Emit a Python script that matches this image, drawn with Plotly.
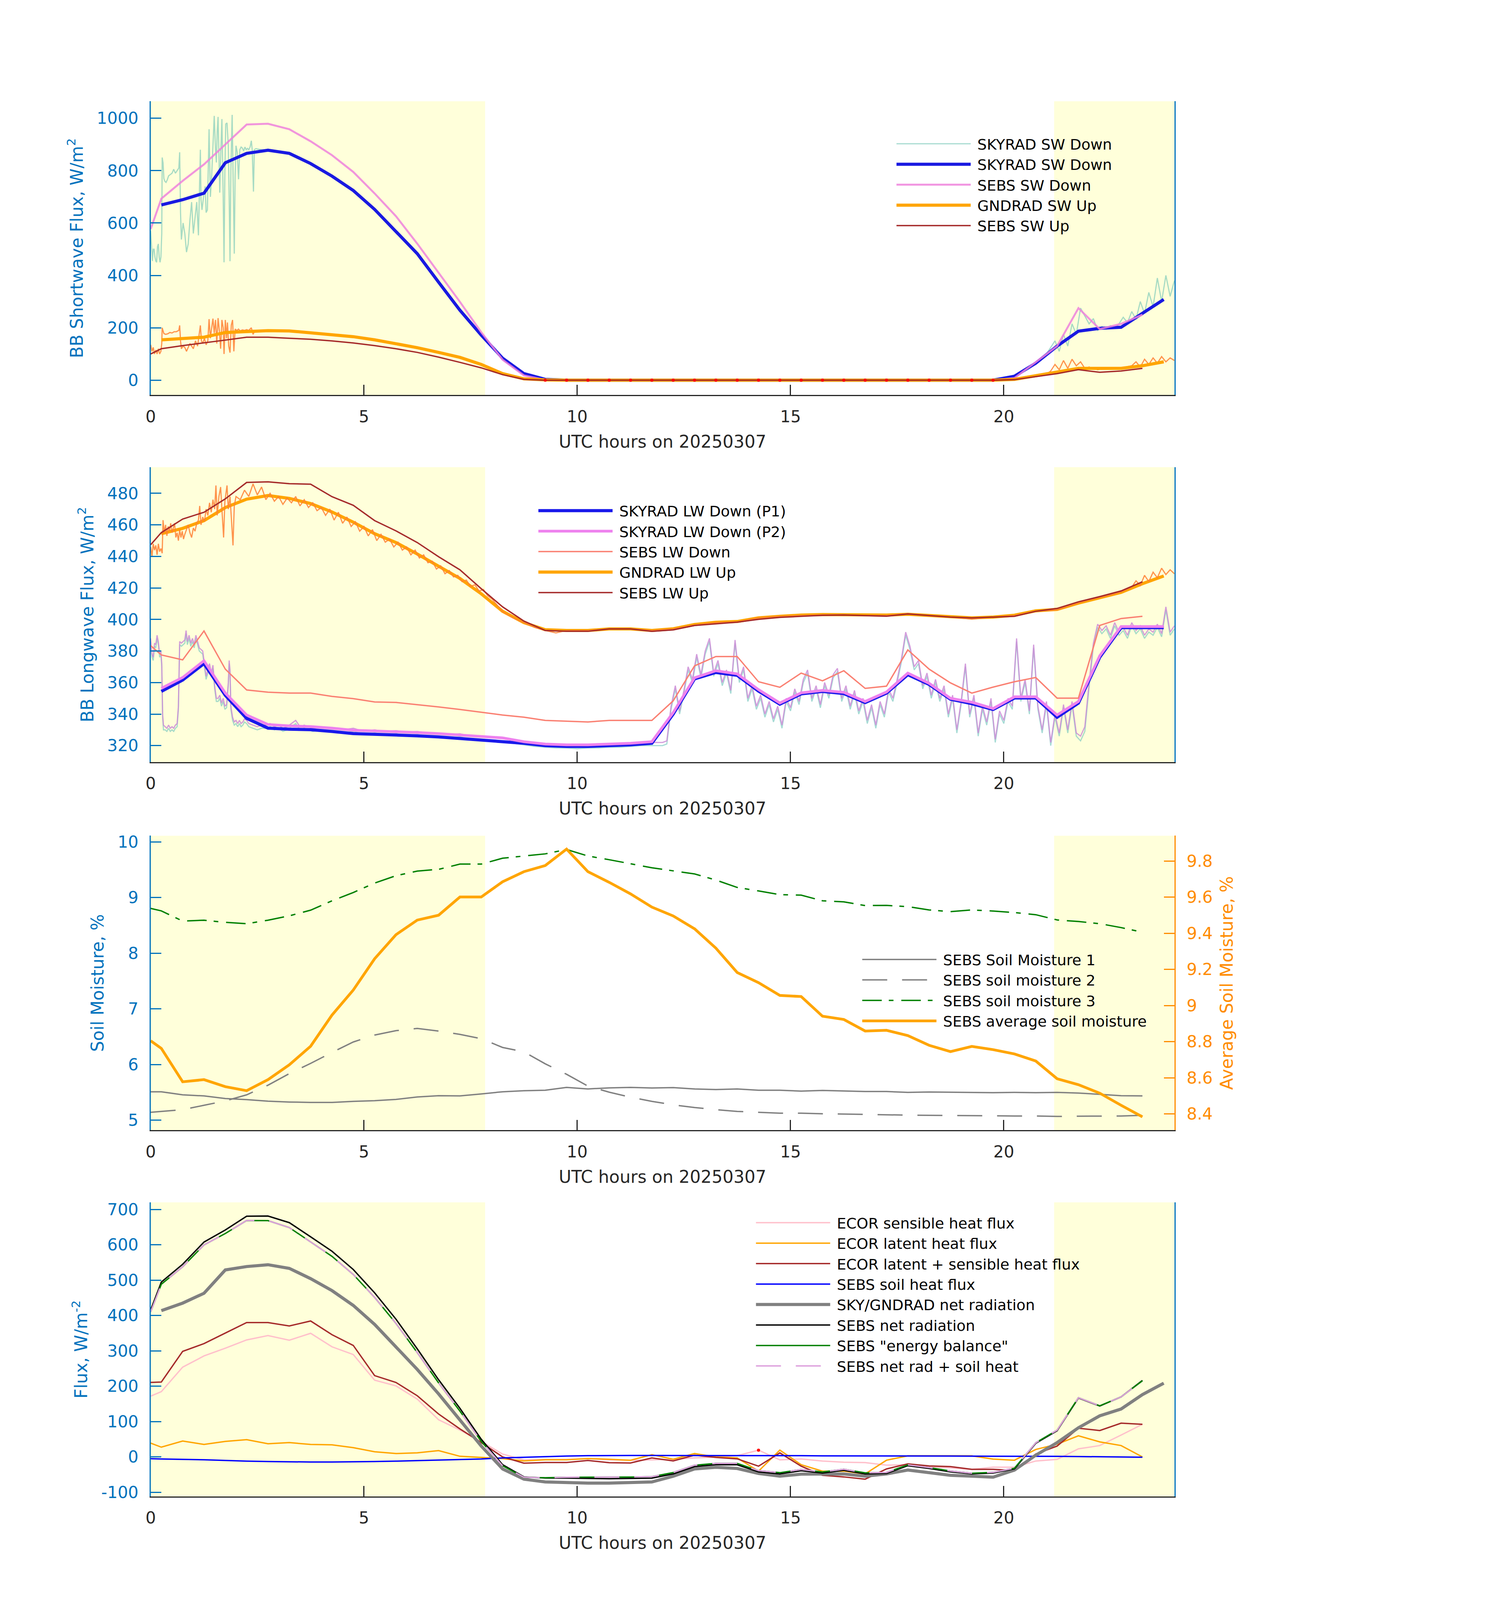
import plotly.graph_objects as go

FONT = "DejaVu Sans"
AXBLUE = "#0072BD"
DARK = "#262626"
AXORANGE = "#FF8C00"
SHADE = "#FFFFDA"

# ---------------- time grids (UTC hours) ----------------
T_SEBS = [0, 0.25, 0.75, 1.25, 1.75, 2.25, 2.75, 3.25, 3.75, 4.25, 4.75, 5.25, 5.75, 6.25, 6.75,
          7.25, 7.75, 8.25, 8.75, 9.25, 9.75, 10.25, 10.75, 11.25, 11.75, 12.25, 12.75, 13.25,
          13.75, 14.25, 14.75, 15.25, 15.75, 16.25, 16.75, 17.25, 17.75, 18.25, 18.75, 19.25,
          19.75, 20.25, 20.75, 21.25, 21.75, 22.25, 22.75, 23.25]
T_AVG = [0.25, 0.75, 1.25, 1.75, 2.25, 2.75, 3.25, 3.75, 4.25, 4.75, 5.25, 5.75, 6.25, 6.75,
         7.25, 7.75, 8.25, 8.75, 9.25, 9.75, 10.25, 10.75, 11.25, 11.75, 12.25, 12.75, 13.25,
         13.75, 14.25, 14.75, 15.25, 15.75, 16.25, 16.75, 17.25, 17.75, 18.25, 18.75, 19.25,
         19.75, 20.25, 20.75, 21.25, 21.75, 22.25, 22.75, 23.25, 23.75]
DAYLIGHT = [(0, 7.84), (21.18, 24)]

# ---------------- panel 1: shortwave ----------------
SW_RAW_T = [0.00, 0.02, 0.04, 0.06, 0.08, 0.10, 0.12, 0.14, 0.16, 0.18, 0.20, 0.22, 0.24, 0.26, 0.27,
            0.29, 0.31, 0.33, 0.36, 0.39, 0.42, 0.46, 0.50, 0.54, 0.58, 0.62, 0.66, 0.68, 0.70, 0.72,
            0.76, 0.80, 0.84, 0.88, 0.92, 0.96, 1.00, 1.04, 1.08, 1.12, 1.165, 1.18, 1.203, 1.24,
            1.278, 1.30, 1.33, 1.369, 1.40, 1.43, 1.46, 1.49, 1.52, 1.54, 1.56, 1.58, 1.60, 1.62,
            1.64, 1.67, 1.70, 1.72, 1.74, 1.76, 1.79, 1.82, 1.84, 1.86, 1.88, 1.91, 1.94, 1.96,
            1.98, 2.00, 2.03, 2.06, 2.09, 2.12, 2.15, 2.18, 2.21, 2.24, 2.27, 2.30, 2.33, 2.36,
            2.38, 2.41, 2.43, 2.47, 2.52, 2.60,
            2.75, 3.0, 3.25, 3.5, 3.75, 4.0, 4.25, 4.5, 4.75, 5.0, 5.25, 5.5, 5.75, 6.0, 6.25, 6.5,
            6.75, 7.0, 7.25, 7.5, 7.75, 8.0, 8.25, 8.5, 8.75, 9.0, 9.25, 9.5, 19.5, 19.75,
            20.0, 20.2, 20.4, 20.6, 20.8, 21.0, 21.1, 21.2, 21.3, 21.4, 21.5, 21.6, 21.7, 21.8,
            21.9, 22.0, 22.1, 22.2, 22.3, 22.4, 22.5, 22.6, 22.7, 22.8, 22.9, 23.0, 23.1, 23.2,
            23.3, 23.4, 23.5, 23.6, 23.7, 23.8, 23.9, 24.0]
SW_RAW_DOWN = [570, 520, 455, 500, 500, 470, 455, 450, 510, 520, 470, 450, 470, 560, 850,
               830, 770, 760, 755, 765, 780, 785, 790, 805, 790, 800, 810, 870, 640, 537,
               600, 560, 489, 520, 610, 680, 560, 620, 680, 553, 880, 690, 650, 700,
               740, 640, 650, 958, 700, 780, 900, 1009, 880, 831, 950, 1005, 860, 716,
               850, 997, 700, 450, 800, 978, 982, 895, 700, 454, 800, 1013, 700, 483,
               780, 895, 870, 767, 880, 890, 886, 875, 890, 880, 885, 880, 890, 914,
               880, 720, 880, 884, 882, 880,
               878, 874, 867, 850, 829, 806, 781, 754, 726, 690, 654, 612, 570, 528, 485, 430,
               376, 322, 268, 220, 173, 128, 85, 50, 25, 10, 3, 0, 0, 1,
               4, 10, 25, 45, 75, 100, 125, 150, 110, 175, 130, 215, 175, 275,
               245, 215, 235, 190, 205, 195, 208, 200, 215, 240, 220, 262, 232, 300,
               255, 335, 280, 390, 300, 400, 320, 380]

SW_UP_RAW_T = [0.00, 0.03, 0.06, 0.09, 0.12, 0.15, 0.18, 0.21, 0.24, 0.26, 0.27, 0.29, 0.31, 0.35,
               0.40, 0.45, 0.50, 0.55, 0.60, 0.66, 0.68, 0.70, 0.72, 0.76, 0.80, 0.84, 0.88, 0.92,
               0.96, 1.00, 1.05, 1.10, 1.165, 1.19, 1.22, 1.26, 1.30, 1.34, 1.369, 1.40, 1.43,
               1.46, 1.49, 1.52, 1.55, 1.58, 1.61, 1.64, 1.67, 1.70, 1.72, 1.75, 1.78, 1.80, 1.83,
               1.86, 1.89, 1.92, 1.95, 1.98, 2.02, 2.06, 2.10, 2.15, 2.20, 2.25, 2.30, 2.36, 2.40,
               2.45, 2.60,
               2.75, 3.25, 3.75, 4.25, 4.75, 5.25, 5.75, 6.25, 6.75, 7.25, 7.75, 8.25, 8.75, 9.25,
               20.0, 20.5, 21.0,
               21.1, 21.2, 21.3, 21.4, 21.5, 21.6, 21.7, 21.8, 21.9, 22.0, 22.2, 22.4, 22.6, 22.8,
               23.0, 23.1, 23.2, 23.3, 23.4, 23.5, 23.6, 23.7, 23.8, 23.9, 24.0]
SW_RAW_UP = [135, 110, 125, 100, 115, 100, 120, 100, 110, 140, 200, 190, 178, 175,
             177, 182, 180, 185, 185, 190, 209, 150, 120, 130, 125, 110, 125, 140,
             130, 120, 150, 130, 209, 150, 140, 160, 135, 150, 233, 160, 200,
             235, 180, 230, 140, 237, 190, 120, 230, 200, 100, 230, 160, 220, 130,
             105, 210, 230, 110, 195, 190, 195, 188, 192, 190, 193, 190, 200, 175,
             190, 190,
             189, 188, 181, 175, 166, 154, 140, 124, 106, 87, 60, 25, 5, 0,
             0, 8, 22,
             35, 60, 40, 75, 45, 80, 55, 70, 45, 50, 40, 45, 42, 48,
             55, 70, 50, 80, 60, 85, 65, 90, 70, 85, 75]

SKYRAD_SW_DOWN = [669, 689, 714, 830, 866, 878, 866, 827, 779, 724, 652, 568, 483, 374, 267, 172,
                  84, 25, 3, 0, 0, 0, 0, 0, 0, 0, 0, 0, 0, 0, 0, 0, 0, 0, 0, 0, 0, 0, 0, 0,
                  15, 65, 130, 187, 198, 202, 255, 308]
SEBS_SW_DOWN = [577, 693, 761, 824, 900, 976, 979, 958, 912, 859, 795, 713, 626, 521, 410, 299,
                183, 78, 18, 1, 0, 0, 0, 0, 0, 0, 0, 0, 0, 0, 0, 0, 0, 0, 0, 0, 0, 0, 0, 0,
                0, 8, 70, 130, 275, 195, 215, 250]
GNDRAD_SW_UP = [154, 158, 164, 182, 186, 189, 188, 181, 175, 166, 154, 140, 124, 106, 87, 60,
                25, 5, 1, 0, 0, 0, 0, 0, 0, 0, 0, 0, 0, 0, 0, 0, 0, 0, 0, 0, 0, 0, 0, 0,
                3, 18, 30, 45, 45, 45, 55, 70]
SEBS_SW_UP = [100, 120, 132, 142, 153, 164, 164, 160, 156, 150, 142, 132, 120, 106, 88, 68,
              47, 21, 3, 0, 0, 0, 0, 0, 0, 0, 0, 0, 0, 0, 0, 0, 0, 0, 0, 0, 0, 0, 0, 0,
              0, 2, 14, 25, 40, 30, 35, 45]
FLAG_WINDOW_SW = (9.0, 20.0)      # SEBS SW Up samples drawn with red dots

# ---------------- panel 2: longwave ----------------
LW_RAW_T = ([0.00, 0.03, 0.06, 0.09, 0.12, 0.15, 0.18, 0.21, 0.24, 0.26, 0.28, 0.30, 0.34, 0.38,
             0.42, 0.46, 0.50, 0.54, 0.58, 0.62, 0.65, 0.68, 0.72, 0.76, 0.80, 0.83, 0.86, 0.90,
             0.94, 0.98, 1.02, 1.06, 1.10, 1.14, 1.18, 1.22, 1.26, 1.30, 1.34, 1.38, 1.42, 1.46,
             1.50, 1.54, 1.58, 1.62, 1.66, 1.70, 1.74, 1.78, 1.82, 1.84, 1.86, 1.88, 1.92, 1.96,
             2.00, 2.04, 2.08, 2.12, 2.16, 2.20, 2.25, 2.30, 2.40, 2.50, 2.60, 2.70, 2.80, 2.90,
             3.00, 3.10, 3.20, 3.30, 3.40, 3.50, 3.60, 3.70,
             3.8, 4.0, 4.25, 4.5, 4.75, 5.0, 5.25, 5.5, 5.75, 6.0, 6.25, 6.5, 6.75, 7.0, 7.25,
             7.5, 7.75, 8.0, 8.25, 8.5, 8.75, 9.0, 9.25, 9.5, 9.75, 10.0, 10.25, 10.5, 10.75,
             11.0, 11.25, 11.5, 11.75, 11.9]
            + [round(12 + 0.1 * i, 1) for i in range(121)])
LW_RAW_P2 = [388, 378, 376, 385, 384, 390, 386, 378, 380, 372, 340, 333, 332, 331, 333, 331, 332,
             331, 333, 334, 345, 386, 385, 386, 387, 393, 386, 390, 385, 388, 384, 390, 386, 382,
             381, 380, 372, 364, 368, 372, 366, 371, 358, 350, 350, 352, 347, 350, 345, 346, 360,
             374, 368, 345, 338, 335, 336, 334, 336, 334, 335, 337, 336, 334, 333, 332, 333, 333,
             334, 332, 333, 331, 332, 334, 336, 332, 333, 332,
             331, 332, 331, 330, 331, 329, 330, 329, 329.5, 328.5, 329, 328, 327.5, 327, 327.5,
             326, 325.5, 325, 324.5, 323.5, 322.5, 321.5, 321, 320.5, 320.5, 320, 320.5, 320.5,
             321, 321, 321.5, 322, 322, 322,
             322, 323, 345, 358, 342, 355, 370, 362, 378, 365,
             380, 388, 366, 374, 360, 368, 355, 387, 362, 370,
             350, 358, 345, 352, 340, 348, 337, 345, 333, 350,
             344, 356, 348, 362, 368, 350, 358, 346, 360, 352,
             365, 369, 350, 358, 345, 355, 342, 350, 336, 346,
             333, 348, 340, 356, 350, 362, 375, 392, 383, 370,
             374, 358, 366, 352, 362, 350, 358, 340, 352, 330,
             348, 372, 340, 352, 328, 345, 335, 350, 324, 342,
             336, 350, 345, 388, 350, 362, 342, 384, 345, 330,
             348, 322, 340, 328, 346, 330, 348, 328, 326, 332,
             360, 385, 397, 393, 396, 390, 398, 392, 395, 390,
             398, 393, 396, 390, 394, 392, 397, 391, 408, 392,
             396]
LW_RAW_P1 = [386, 376, 374, 383, 382, 388, 384, 376, 378, 370, 338, 330, 330, 329, 331, 329, 330,
             329, 331, 332, 343, 384, 383, 384, 385, 391, 384, 388, 383, 386, 382, 388, 384, 380,
             379, 378, 370, 362, 366, 370, 364, 369, 356, 348, 348, 350, 345, 348, 343, 344, 358,
             372, 366, 343, 336, 333, 334, 332, 334, 332, 333, 335, 334, 332, 331, 330, 331, 331,
             332, 330, 331, 329, 330, 332, 334, 330, 331, 330,
             329, 330, 329, 328, 329, 327, 328, 327, 327.5, 326.5, 327, 326, 325.5, 325, 325.5,
             324, 323.5, 323, 322.5, 321.5, 320.5, 319.5, 319, 318.5, 318.5, 318, 318.5, 318.5,
             319, 319, 319.5, 320, 320, 320,
             320, 321, 343, 356, 340, 353, 368, 360, 376, 363,
             378, 386, 364, 372, 358, 366, 353, 385, 360, 368,
             348, 356, 343, 350, 338, 346, 335, 343, 331, 348,
             342, 354, 346, 360, 366, 348, 356, 344, 358, 350,
             363, 367, 348, 356, 343, 353, 340, 348, 334, 344,
             331, 346, 338, 354, 348, 360, 373, 390, 381, 368,
             372, 356, 364, 350, 360, 348, 356, 338, 350, 328,
             346, 370, 338, 350, 326, 343, 333, 348, 322, 340,
             334, 348, 343, 386, 348, 360, 340, 382, 343, 328,
             346, 320, 338, 326, 344, 328, 346, 326, 323, 329,
             357, 383, 395, 391, 394, 388, 396, 390, 393, 388,
             396, 391, 394, 388, 392, 390, 395, 389, 406, 390,
             394]
LWUP_RAW_T = ([0.00, 0.03, 0.06, 0.09, 0.12, 0.15, 0.18, 0.21, 0.24, 0.27, 0.29, 0.32, 0.35, 0.38,
               0.41, 0.44, 0.47, 0.50, 0.53, 0.56, 0.59, 0.62, 0.65, 0.68, 0.71, 0.74, 0.77, 0.80,
               0.84, 0.88, 0.92, 0.96, 1.00, 1.04, 1.08, 1.12, 1.15, 1.18, 1.22, 1.26, 1.30, 1.34,
               1.38, 1.42, 1.46, 1.50, 1.53, 1.56, 1.60, 1.64, 1.67, 1.71, 1.74, 1.77, 1.79, 1.82,
               1.86, 1.89, 1.93, 1.96, 2.00]
              + [round(2.1 + 0.1 * i, 1) for i in range(60)]
              + [8.25, 8.5, 8.75, 9.0, 9.25, 9.5, 9.75, 10.25, 10.75, 11.25, 11.75, 12.25, 12.75,
                 13.25, 13.75, 14.25, 14.75, 15.25, 15.75, 16.25, 16.75, 17.25, 17.75, 18.25,
                 18.75, 19.25, 19.75, 20.25, 20.75, 21.25, 21.5, 21.75, 22.0, 22.25, 22.5, 22.75,
                 23.0, 23.1, 23.2, 23.3, 23.4, 23.5, 23.6, 23.7, 23.8, 23.9, 24.0])
LWUP_RAW = [446, 440, 448, 444, 447, 441, 448, 443, 445, 442, 463, 455, 460, 453, 459, 456, 461,
            455, 458, 461, 452, 455, 450, 457, 452, 456, 451, 454, 457, 460, 455, 452, 458, 456,
            461, 463, 472, 460, 465, 462, 470, 466, 474, 468, 476, 470, 485, 466, 478, 484, 470,
            452, 475, 481, 485, 470, 478, 465, 447, 472, 478,
            476, 482, 478, 486, 479, 484, 476, 480, 475, 478,
            473, 477, 474, 478, 472, 476, 471, 474, 469, 471,
            466, 470, 463, 468, 461, 465, 459, 462, 456, 459,
            453, 457, 450, 454, 449, 451, 446, 449, 444, 446,
            441, 444, 439, 441, 436, 437, 432, 434, 429, 431,
            427, 428, 424, 425, 421, 422, 418, 419, 415, 413,
            405, 401, 398, 395, 393, 391.5, 393, 393, 394, 394, 393, 394, 396.5,
            398, 398.5, 401, 402, 402.5, 403, 403, 402.5, 402.5, 403.8, 402.3,
            401.5, 400.2, 401.5, 402.5, 405.3, 406, 408.5, 410.5, 412.5, 414, 415.5, 417.5,
            420.5, 424.5, 421.5, 428, 424, 430, 426.5, 432.5, 428.5, 431.5, 429]

SKYRAD_LW_P1 = [354.4, 361.6, 372, 351.9, 337.3, 331.1, 330.4, 330.1, 329, 327.6, 327.2, 326.9,
                326.2, 325.5, 324.6, 323.5, 322.5, 321.5, 320, 319.5, 319.5, 320, 320.5, 321.5,
                340, 362.3, 366.4, 364.6, 354.6, 346.3, 352.8, 354.4, 353, 347.3, 353.3, 365,
                358.8, 349.4, 346.6, 342.9, 350.2, 350.2, 338, 347, 376.1, 394.8, 394.8, 394.8]
SKYRAD_LW_P2 = [356.3, 363.2, 373.8, 353.3, 339.4, 333.4, 332.5, 332.1, 331.1, 329.7, 329.3, 329,
                328.3, 327.6, 326.6, 325.5, 324.9, 322.5, 321, 320.5, 320.5, 321, 321.5, 322.5,
                341, 363, 367.5, 365.5, 355.5, 347, 353.5, 355, 353.8, 348, 354, 366,
                359.5, 350, 347.5, 343.5, 351, 351, 339.4, 348, 377, 395.5, 395.5, 395.5]
SEBS_LW_DOWN = [383.4, 377.5, 374.4, 392.7, 368.5, 355.3, 353.9, 353.3, 353.3, 351.2, 349.8, 347.7,
                347.4, 346, 344.5, 342.9, 341.1, 339.4, 338, 336, 335.5, 335, 336, 336, 336,
                348.4, 370.6, 376.5, 376.5, 360.5, 357, 366, 361.1, 367.5, 356.3, 357.7, 380.7,
                368.5, 359.8, 353.3, 357.1, 360.5, 363.2, 350.1, 350.1, 396.2, 400.6, 402]
GNDRAD_LW_UP = [454.4, 457.8, 462.7, 471, 476.3, 478.6, 476.8, 473.5, 468.2, 461.7, 454.4, 448.8,
                441.5, 433.6, 426, 416.3, 405.2, 398, 393.5, 393, 393, 394, 394, 393,
                394.1, 396.8, 398.2, 398.7, 401, 402, 402.8, 403.1, 403.1, 402.8, 402.8, 403.3,
                402.4, 401.7, 401, 401.5, 402.7, 405.5, 406.4, 410.4, 413.9, 417.2, 422.7, 427.6]
SEBS_LW_UP = [447.4, 455.1, 463.7, 468, 476.5, 486.9, 487.3, 486.1, 485.8, 477.9, 472.4, 462.7,
              456.2, 448.8, 439.8, 431.5, 419.5, 408, 399, 393, 392.5, 392.5, 394, 394, 392.5,
              393.4, 396.2, 397.3, 398.3, 400.1, 401.3, 402, 402.6, 402.8, 402.4, 402.1, 403.5,
              402.4, 401.5, 401, 401.5, 402, 405.2, 407, 411.2, 414.5, 418.1, 423.9]

# ---------------- panel 3: soil moisture ----------------
SM1 = [5.511, 5.511, 5.456, 5.436, 5.389, 5.370, 5.342, 5.327, 5.319, 5.319, 5.338, 5.350, 5.374,
       5.417, 5.440, 5.436, 5.472, 5.511, 5.530, 5.539, 5.590, 5.562, 5.581, 5.590, 5.578, 5.586,
       5.562, 5.550, 5.562, 5.539, 5.539, 5.523, 5.535, 5.527, 5.515, 5.515, 5.499, 5.507, 5.503,
       5.503, 5.495, 5.499, 5.495, 5.499, 5.488, 5.464, 5.440, 5.436]
SM2 = [5.142, 5.158, 5.190, 5.268, 5.347, 5.456, 5.629, 5.837, 6.021, 6.217, 6.405, 6.530, 6.609,
       6.648, 6.601, 6.542, 6.464, 6.307, 6.228, 6.013, 5.825, 5.613, 5.503, 5.413, 5.338, 5.276,
       5.228, 5.190, 5.158, 5.142, 5.126, 5.126, 5.115, 5.111, 5.103, 5.099, 5.091, 5.088, 5.084,
       5.080, 5.080, 5.076, 5.076, 5.068, 5.072, 5.072, 5.076, 5.088]
SM3 = [8.804, 8.76, 8.577, 8.592, 8.554, 8.530, 8.592, 8.671, 8.773, 8.941, 9.090, 9.259, 9.392,
       9.475, 9.506, 9.600, 9.600, 9.706, 9.745, 9.784, 9.863, 9.745, 9.679, 9.609, 9.534, 9.479,
       9.424, 9.314, 9.181, 9.118, 9.052, 9.043, 8.941, 8.922, 8.855, 8.859, 8.836, 8.777, 8.746,
       8.777, 8.757, 8.730, 8.691, 8.597, 8.569, 8.530, 8.460, 8.377]
SM_AVG = [8.805, 8.763, 8.578, 8.590, 8.551, 8.529, 8.590, 8.672, 8.775, 8.947, 9.086, 9.259,
          9.392, 9.473, 9.500, 9.601, 9.601, 9.685, 9.741, 9.775, 9.866, 9.741, 9.682, 9.618,
          9.545, 9.496, 9.425, 9.318, 9.183, 9.127, 9.056, 9.050, 8.941, 8.923, 8.859, 8.863,
          8.834, 8.780, 8.745, 8.774, 8.756, 8.732, 8.693, 8.595, 8.562, 8.515, 8.448, 8.384]

# ---------------- panel 4: surface fluxes ----------------
ECOR_SENSIBLE = [171.7, 184.6, 253.8, 285.5, 307.5, 330.8, 343.1, 330.1, 349.5, 311.4, 289.4,
                 216.9, 200.8, 163.3, 105.1, 76, 43.7, 8, -8.4, -7, -7, -5, -8.4, -9.7, -8.4, -7,
                 -2.9, -0.4, 3.5, 19, -8.4, -5.8, -11.6, -14.9, -16.1, -23.2, -22.6, -27.8, -31,
                 -35.5, -29, -29, -11.6, -7, 22.9, 32, 61.7, 92.1]
ECOR_LATENT = [39.1, 27.5, 44.9, 35.2, 43.7, 48.8, 37.2, 40.4, 35.2, 34, 26.2, 14.6, 9.5, 11.4,
               17.8, 1.7, -1.6, -4.8, -11.3, -8, -8, -4.8, -6.8, -9.4, 6.1, -6.8, 9.5, -0.2, -2.8,
               -40.3, 19.2, -22.2, -40.3, -40.3, -48, -9.4, 2.9, 2.9, 2.9, 2.9, -6.2, -9.4, 21,
               35.9, 59.8, 42.4, 32.1, -0.2]
ECOR_SUM = [210.5, 211.8, 298.4, 320.4, 350.2, 379.9, 379.9, 370.2, 384.4, 345.6, 315.2, 229.9,
            210.5, 173, 121.2, 79.2, 40.4, 0, -17.8, -15.8, -15.8, -10, -16.4, -17.1, -2.9, -11.3,
            4.8, -1.6, -5.5, -26.2, 11.3, -26.2, -52, -56.6, -63, -34, -19.8, -25.6, -27.5, -35.3,
            -35.3, -38.5, 8, 30.7, 81.1, 74.6, 95.4, 92.1]
SEBS_SOIL = [-5, -6, -7, -8, -10, -12, -13, -14, -14.5, -14.5, -14, -13, -12, -10.5, -9, -8, -6,
             -3, -1, 1, 2.5, 3.5, 4, 4, 4, 4, 4, 4, 4, 3.5, 3.5, 3.5, 3, 3, 3, 3, 2.5, 2.5, 2.5,
             2, 2, 2, 1.5, 1.5, 1, 0.5, 0, -1]
SKYGND_NET = [413.5, 434.9, 462.7, 528.7, 538.3, 543.5, 533.2, 504.1, 470.4, 428.4, 374.7, 312,
              247.3, 178.1, 105.1, 30.7, -34, -63, -70.8, -72.7, -74, -74, -72.7, -70.8, -54.6,
              -34, -29.4, -32.7, -46.9, -54.6, -48.8, -48.2, -48.2, -54.6, -48.2, -37.2, -43.7,
              -52.1, -54.6, -57.2, -37.2, 4.8, 40.4, 82.4, 116.1, 135.5, 176.2, 208.5]
SEBS_NET = [415.5, 494.4, 544.8, 607.5, 641.8, 680.6, 681.2, 662.5, 622.4, 581.7, 529.9, 464,
            389.6, 305.5, 218.2, 137.4, 50, -22, -56.6, -59.9, -60, -61, -61.8, -61, -60, -48.2,
            -27.5, -22.3, -22.3, -42.4, -48.2, -39.2, -45.7, -37.9, -48.2, -46.9, -24.9, -32.7,
            -42.4, -48.2, -45.7, -34, 38.5, 74, 166.5, 143.9, 169.7, 216.3]
SEBS_ENERGY_BAL = [410.5, 488.4, 537.8, 599.5, 631.8, 668.6, 668.2, 648.5, 607.9, 567.2, 515.9, 451,
                   377.6, 295, 209.2, 129.4, 44, -25, -57.6, -58.9, -57.5, -57.5, -57.8, -57, -56,
                   -44.2, -23.5, -18.3, -18.3, -38.9, -44.7, -35.7, -42.7, -34.9, -45.2, -43.9,
                   -22.4, -30.2, -39.9, -46.2, -43.7, -32, 40, 75.5, 167.5, 144.4, 169.7, 215.3]
SEBS_NETRAD_SOIL = [410.5, 488.4, 537.8, 599.5, 631.8, 668.6, 668.2, 648.5, 607.9, 567.2, 515.9,
                    451, 377.6, 295, 209.2, 129.4, 44, -25, -57.6, -58.9, -57.5, -57.5, -57.8, -57,
                    -56, -44.2, -23.5, -18.3, -18.3, -38.9, -44.7, -35.7, -42.7, -34.9, -45.2,
                    -43.9, -22.4, -30.2, -39.9, -46.2, -43.7, -32, 40, 75.5, 167.5, 144.4, 169.7,
                    215.3]
FLAG_TIMES_ECOR = [14.25]          # ECOR sensible sample marked with a red dot

X_TICKS = [0, 5, 10, 15, 20]
Y1_TICKS = [0, 200, 400, 600, 800, 1000]
Y2_TICKS = [320, 340, 360, 380, 400, 420, 440, 460, 480]
Y3_TICKS = [5, 6, 7, 8, 9, 10]
Y5_TICKS = [8.4, 8.6, 8.8, 9.0, 9.2, 9.4, 9.6, 9.8]
Y5_LABELS = ["8.4", "8.6", "8.8", "9", "9.2", "9.4", "9.6", "9.8"]
Y4_TICKS = [-100, 0, 100, 200, 300, 400, 500, 600, 700]
Y4_LABELS = ["-100", "0", "100", "200", "300", "400", "500", "600", "700"]

fig = go.Figure()
GAP = "\u00a0"


def line(x, y, name, color, width, xa, ya, legend, show=True, dash=None):
    fig.add_trace(go.Scatter(
        x=x, y=y, name=GAP + name, mode="lines",
        line=dict(color=color, width=width, dash=dash),
        xaxis=xa, yaxis=ya, legend=legend, showlegend=show, hoverinfo="skip"))


def dots(x, y, xa, ya, legend):
    fig.add_trace(go.Scatter(
        x=x, y=y, mode="markers", marker=dict(color="#FF0000", size=8, line=dict(width=0)),
        xaxis=xa, yaxis=ya, legend=legend, showlegend=False, hoverinfo="skip"))


# panel 1
line(SW_RAW_T, SW_RAW_DOWN, "SKYRAD SW Down", "rgba(120,200,185,0.65)", 3, "x", "y", "legend")
line(T_AVG, SKYRAD_SW_DOWN, "SKYRAD SW Down", "rgb(25,25,225)", 8, "x", "y", "legend")
line(T_SEBS, SEBS_SW_DOWN, "SEBS SW Down", "rgba(238,130,220,0.85)", 5, "x", "y", "legend")
line(SW_UP_RAW_T, SW_RAW_UP, "GNDRAD SW Up raw", "rgba(255,128,50,0.85)", 3, "x", "y", "legend", show=False)
line(T_AVG, GNDRAD_SW_UP, "GNDRAD SW Up", "#FFA500", 8, "x", "y", "legend")
line(T_SEBS, SEBS_SW_UP, "SEBS SW Up", "#A52A2A", 3.5, "x", "y", "legend")
flag_idx = [i for i, t in enumerate(T_SEBS) if FLAG_WINDOW_SW[0] < t < FLAG_WINDOW_SW[1]]
dots([T_SEBS[i] for i in flag_idx], [SEBS_SW_UP[i] for i in flag_idx], "x", "y", "legend")

# panel 2
line(LW_RAW_T, LW_RAW_P1, "P1 raw", "rgba(120,200,190,0.65)", 3, "x2", "y2", "legend2", show=False)
line(LW_RAW_T, LW_RAW_P2, "P2 raw", "rgba(205,140,215,0.85)", 3, "x2", "y2", "legend2", show=False)
line(T_AVG, SKYRAD_LW_P1, "SKYRAD LW Down (P1)", "rgb(25,25,235)", 8, "x2", "y2", "legend2")
line(T_AVG, SKYRAD_LW_P2, "SKYRAD LW Down (P2)", "rgb(238,130,238)", 7, "x2", "y2", "legend2")
line(T_SEBS, SEBS_LW_DOWN, "SEBS LW Down", "#FA8072", 3.5, "x2", "y2", "legend2")
line(T_AVG, GNDRAD_LW_UP, "GNDRAD LW Up", "#FFA500", 8, "x2", "y2", "legend2")
line(LWUP_RAW_T, LWUP_RAW, "GNDRAD LW Up raw", "rgba(255,128,50,0.85)", 3, "x2", "y2", "legend2", show=False)
line(T_SEBS, SEBS_LW_UP, "SEBS LW Up", "#A52A2A", 3.5, "x2", "y2", "legend2")

# panel 3
line(T_SEBS, SM1, "SEBS Soil Moisture 1", "#808080", 3.5, "x3", "y3", "legend3")
line(T_SEBS, SM2, "SEBS soil moisture 2", "#808080", 3.5, "x3", "y3", "legend3", dash="64px,38px")
line(T_SEBS, SM3, "SEBS soil moisture 3", "#008000", 3.5, "x3", "y3", "legend3",
     dash="50px,18px,12px,20px")
line(T_SEBS, SM_AVG, "SEBS average soil moisture", "#FFA500", 7, "x3", "y5", "legend3")

# panel 4
line(T_SEBS, ECOR_SENSIBLE, "ECOR sensible heat flux", "#FFC0CB", 3.5, "x4", "y4", "legend4")
line(T_SEBS, ECOR_LATENT, "ECOR latent heat flux", "#FFA500", 3.5, "x4", "y4", "legend4")
line(T_SEBS, ECOR_SUM, "ECOR latent + sensible heat flux", "#A52A2A", 3.5, "x4", "y4", "legend4")
line(T_SEBS, SEBS_SOIL, "SEBS soil heat flux", "#0000FF", 3.5, "x4", "y4", "legend4")
line(T_AVG, SKYGND_NET, "SKY/GNDRAD net radiation", "#808080", 8, "x4", "y4", "legend4")
line(T_SEBS, SEBS_NET, "SEBS net radiation", "#000000", 3.5, "x4", "y4", "legend4")
line(T_SEBS, SEBS_ENERGY_BAL, "SEBS \"energy balance\"", "#008000", 3.5, "x4", "y4", "legend4")
line(T_SEBS, SEBS_NETRAD_SOIL, "SEBS net rad + soil heat", "#DDA0DD", 3.5, "x4", "y4", "legend4",
     dash="64px,38px")
ecor_idx = [T_SEBS.index(t) for t in FLAG_TIMES_ECOR]
dots([T_SEBS[i] for i in ecor_idx], [ECOR_SENSIBLE[i] for i in ecor_idx], "x4", "y4", "legend4")

# ---------------- layout ----------------
# figure fills the page (body margin 8 px); positions below are reference pixels of a 3825x4875 page
PAGE_W, PAGE_H, BODY = 3825, 4875, 8
FW, FH = PAGE_W - 2 * BODY, PAGE_H - 2 * BODY


def fx(px):
    return (px - BODY) / FW


def fy(py):
    return 1 - (py - BODY) / FH


XDOM = [fx(374), fx(3004)]
DOMS = [[fy(1199), fy(298)], [fy(2324), fy(1420)], [fy(3453), fy(2550)], [fy(4576), fy(3674)]]


def xaxis(anchor):
    return dict(anchor=anchor, domain=XDOM, range=[0, 24], tickvals=X_TICKS, ticks="inside",
                ticklen=27, tickwidth=2.5, tickcolor=DARK, showline=True, linecolor=DARK,
                linewidth=2.5, showgrid=False, zeroline=False,
                tickfont=dict(family=FONT, size=42, color=DARK), ticklabelstandoff=16,
                title=dict(text="UTC hours on 20250307", font=dict(family=FONT, size=44, color=DARK),
                           standoff=26))


def yaxis(anchor, dom, rng, ticks, title, color=AXBLUE, mirror=True, labels=None):
    d = dict(anchor=anchor, domain=dom, range=rng, tickvals=ticks, ticks="inside", ticklen=27,
             tickwidth=2.5, tickcolor=color, showline=True, linecolor=color, linewidth=2.5,
             mirror=mirror, showgrid=False, zeroline=False,
             tickfont=dict(family=FONT, size=42, color=color), ticklabelstandoff=20,
             title=dict(text=title, font=dict(family=FONT, size=44, color=color), standoff=22))
    if labels is not None:
        d["ticktext"] = labels
    return d


shapes = []
for k, xr in enumerate(["x", "x2", "x3", "x4"]):
    yr = "y" if k == 0 else "y%d" % (k + 1)
    for x0, x1 in DAYLIGHT:
        shapes.append(dict(type="rect", xref=xr, yref=yr + " domain", x0=x0, x1=x1, y0=0, y1=1,
                           fillcolor=SHADE, line=dict(width=0), layer="below"))


def legend(xpx, ypx):
    return dict(x=fx(xpx), y=fy(ypx), xanchor="left", yanchor="top", bgcolor="rgba(0,0,0,0)",
                borderwidth=0, font=dict(family=FONT, size=38, color="#000000"), itemwidth=190,
                tracegroupgap=0)


fig.update_layout(
    autosize=True, margin=dict(l=0, r=0, t=0, b=0, pad=0),
    paper_bgcolor="white", plot_bgcolor="white",
    font=dict(family=FONT, size=38, color=DARK),
    xaxis=xaxis("y"), xaxis2=xaxis("y2"), xaxis3=xaxis("y3"), xaxis4=xaxis("y4"),
    yaxis=yaxis("x", DOMS[0], [-57, 1065], Y1_TICKS, "BB Shortwave Flux, W/m<sup>2</sup>"),
    yaxis2=yaxis("x2", DOMS[1], [309.6, 496.6], Y2_TICKS, "BB Longwave Flux, W/m<sup>2</sup>"),
    yaxis3=yaxis("x3", DOMS[2], [4.82, 10.11], Y3_TICKS, "Soil Moisture, %", mirror=False),
    yaxis4=yaxis("x4", DOMS[3], [-112, 720], Y4_TICKS, "Flux, W/m<sup>-2</sup>",
                 labels=Y4_LABELS),
    yaxis5=dict(yaxis("x3", DOMS[2], [8.31, 9.94], Y5_TICKS, "Average Soil Moisture, %",
                      color=AXORANGE, mirror=False, labels=Y5_LABELS), overlaying="y3",
                side="right"),
    shapes=shapes,
    legend=legend(2285, 391),
    legend2=legend(1365, 1516),
    legend3=legend(2197, 2892),
    legend4=legend(1924, 3699),
    showlegend=True,
)

fig.write_html("out.html", default_width="calc(100vw - 16px)", default_height="calc(100vh - 16px)",
               config={"displayModeBar": False, "responsive": True})
